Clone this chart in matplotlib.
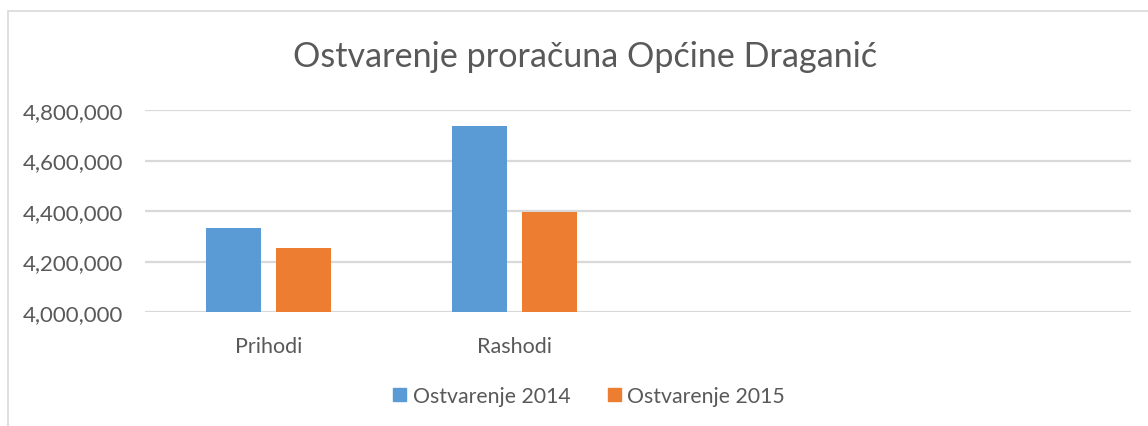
import numpy as np
import matplotlib
matplotlib.use("Agg")
import matplotlib.pyplot as plt
from matplotlib.patches import Rectangle, Patch

categories = ["Prihodi", "Rashodi", "", ""]
series_names = ["Ostvarenje 2014", "Ostvarenje 2015"]
ostv_2014 = [4332000, 4738000, np.nan, np.nan]
ostv_2015 = [4253000, 4398000, np.nan, np.nan]
yticks = [4000000, 4200000, 4400000, 4600000, 4800000]

blue = "#5B9BD5"
orange = "#ED7D31"
txt = "#595959"
grid = "#D9D9D9"

plt.rcParams['font.family'] = ['Lato', 'DejaVu Sans']

fig = plt.figure(figsize=(11.48, 4.27), dpi=100)
ax = fig.add_axes([145/1148, 1-313/427, (1131-145)/1148, (313-111)/427])

x = np.arange(len(categories))
w = 0.223
ax.bar(x - 0.142, ostv_2014, w, color=blue, zorder=3)
ax.bar(x + 0.142, ostv_2015, w, color=orange, zorder=3)

ax.set_xlim(-0.5, len(categories) - 0.5)
ax.set_ylim(4000000, 4800000)
ax.set_yticks(yticks)
ax.set_yticklabels([f"{v:,}" for v in yticks], fontsize=16, color=txt)
ax.set_xticks(x)
ax.set_xticklabels(categories, fontsize=15.5, color=txt)
ax.tick_params(length=0)
ax.tick_params(axis='y', pad=16)
ax.tick_params(axis='x', pad=17)
ax.yaxis.grid(True, color=grid, linewidth=1.6, zorder=0)
for s in ax.spines.values():
    s.set_visible(False)

fig.text(585/1148, 1-57/427, "Ostvarenje proračuna Općine Draganić",
         ha='center', va='center', fontsize=24.6, color=txt)

handles = [Patch(color=blue), Patch(color=orange)]
fig.legend(handles, series_names, loc='center', bbox_to_anchor=(589/1148, 1-397/427),
           ncol=2, frameon=False, fontsize=15.3, labelcolor=txt,
           handlelength=0.62, handleheight=0.62, handletextpad=0.3, columnspacing=1.75)

fig.patches.append(Rectangle((8/1148, -0.1), 1.2, 1.1 - 12/427, transform=fig.transFigure,
                             fill=False, edgecolor=grid, linewidth=1.2))

fig.savefig("out.png", dpi=100)
